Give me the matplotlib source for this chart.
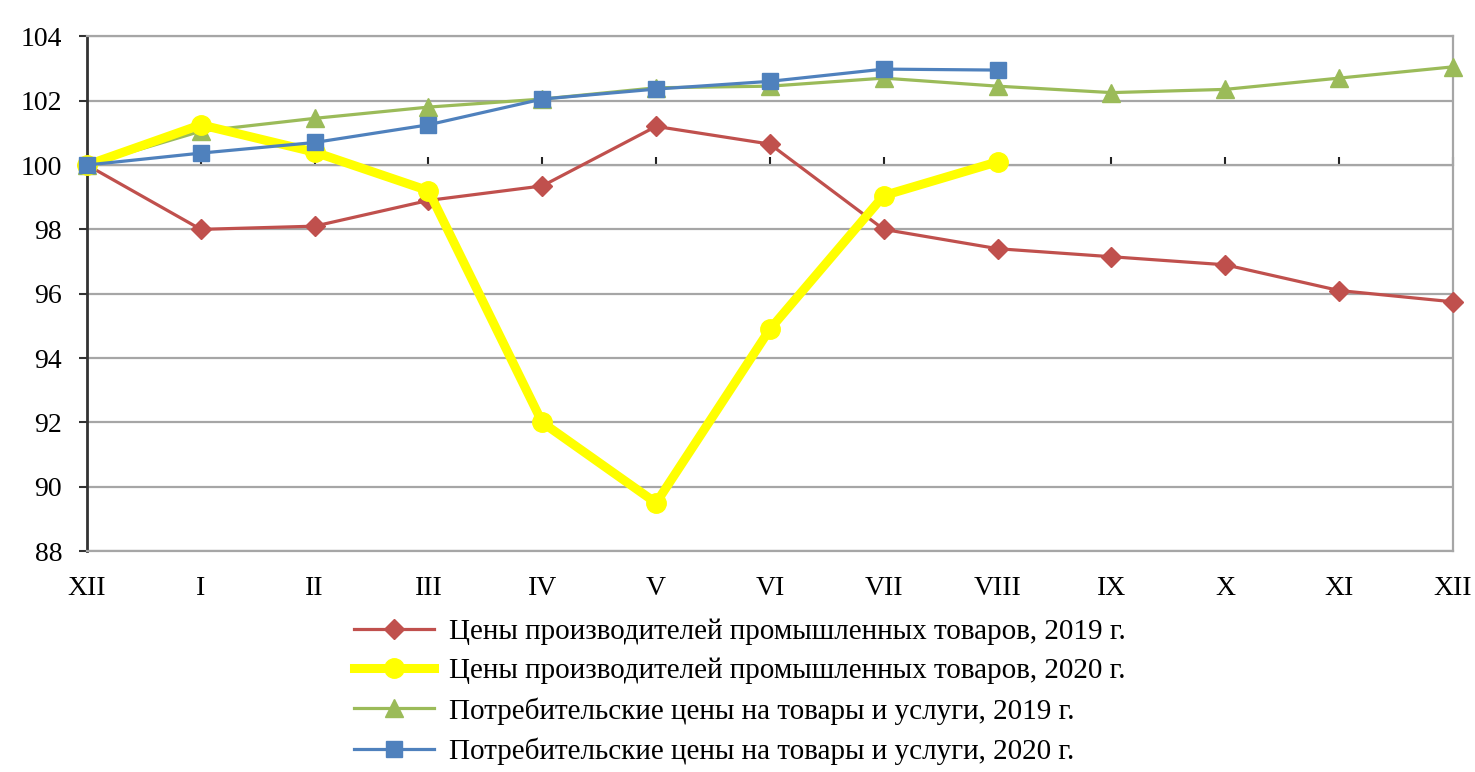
import matplotlib
matplotlib.use("Agg")
import matplotlib.pyplot as plt

plt.rcParams["font.family"] = ["Liberation Serif", "DejaVu Serif"]

months = ["XII", "I", "II", "III", "IV", "V", "VI", "VII", "VIII", "IX", "X", "XI", "XII"]

ppi_2019 = [100.0, 98.0, 98.1, 98.9, 99.35, 101.2, 100.65, 98.0, 97.4, 97.15, 96.9, 96.1, 95.75]
ppi_2020 = [100.0, 101.25, 100.4, 99.2, 92.0, 89.5, 94.9, 99.05, 100.1]
cpi_2019 = [100.0, 101.05, 101.45, 101.8, 102.05, 102.4, 102.45, 102.7, 102.45, 102.25, 102.35, 102.7, 103.05]
cpi_2020 = [100.0, 100.37, 100.7, 101.25, 102.05, 102.36, 102.6, 102.98, 102.95]

labels = [
    "Цены производителей промышленных товаров, 2019 г.",
    "Цены производителей промышленных товаров, 2020 г.",
    "Потребительские цены на товары и услуги, 2019 г.",
    "Потребительские цены на товары и услуги, 2020 г.",
]

fig = plt.figure(figsize=(14.75, 7.72), dpi=100)
ax = fig.add_axes([0.059, 0.286, 0.926, 0.667])

x19 = range(len(ppi_2019))
x20 = range(len(ppi_2020))

ax.plot(x19, ppi_2019, color="#C0504D", lw=2.3, marker="D", ms=10, clip_on=False, zorder=3, label=labels[0])
ax.plot(x20, ppi_2020, color="#FFFF00", lw=6.5, marker="o", ms=14, clip_on=False, zorder=4, label=labels[1])
ax.plot(x19, cpi_2019, color="#9BBB59", lw=2.3, marker="^", ms=13, clip_on=False, zorder=3, label=labels[2])
ax.plot(x20, cpi_2020, color="#4F81BD", lw=2.3, marker="s", ms=12, clip_on=False, zorder=5, label=labels[3])

ax.set_xlim(0, 12)
ax.set_ylim(88, 104)
ax.set_yticks(range(88, 105, 2))
ax.yaxis.grid(True, color="#A6A6A6", lw=1.6)
ax.set_axisbelow(True)

ax.set_xticks(range(13))
ax.set_xticklabels(months)
ax.tick_params(axis="x", length=0, pad=18, labelsize=20)
ax.tick_params(axis="y", length=6, width=1.5, color="#333333", labelsize=20, pad=12)

for side in ["top", "right", "bottom"]:
    ax.spines[side].set_color("#A6A6A6")
    ax.spines[side].set_linewidth(1.6)
ax.spines["left"].set_color("#333333")
ax.spines["left"].set_linewidth(2)

# x axis crosses at 100
sec = ax.secondary_xaxis((100 - 88) / 16)
sec.set_xticks(range(13))
sec.set_xticklabels([])
sec.tick_params(axis="x", direction="out", length=6, width=1.5, color="#222222")
sec.spines["bottom"].set_color("#222222")
sec.spines["bottom"].set_linewidth(2)
sec.spines["bottom"].set_zorder(2)

fig.legend(loc="upper left", bbox_to_anchor=(0.232, 0.214), frameon=False,
           fontsize=21, handlelength=2.75, handletextpad=0.5, labelspacing=0.44,
           borderaxespad=0.0)

fig.savefig("out.png", dpi=100)
